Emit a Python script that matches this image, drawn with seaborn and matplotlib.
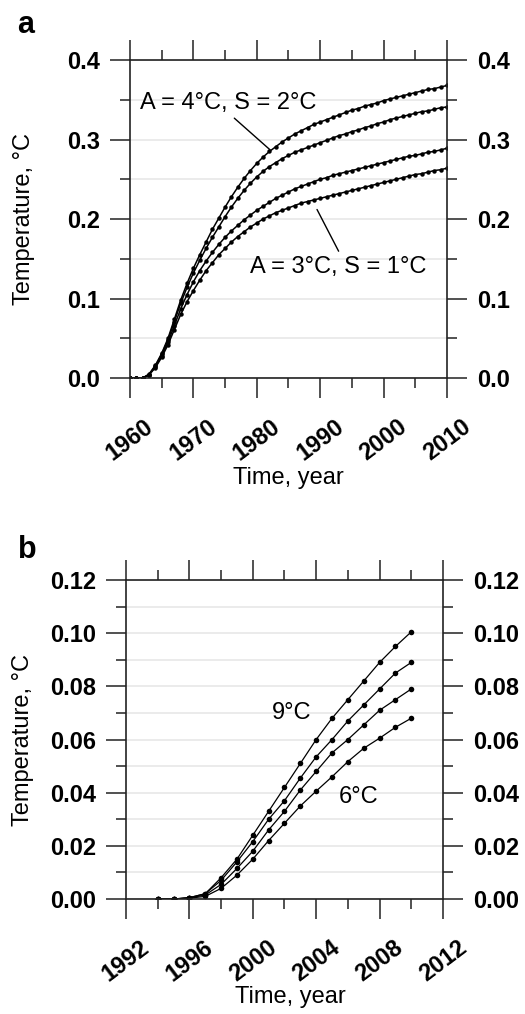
import matplotlib
matplotlib.use("Agg")
import matplotlib.pyplot as plt
import seaborn as sns
from matplotlib.ticker import MultipleLocator

# ---------------------------------------------------------------------------
# Datos
# ---------------------------------------------------------------------------
years_a = list(range(1960, 2011))

temp_a_s1 = [0.000, 0.000, 0.000, 0.005, 0.016, 0.031, 0.050, 0.074, 0.098, 0.119,
             0.138, 0.155, 0.171, 0.187, 0.201, 0.215, 0.228, 0.240, 0.251, 0.261,
             0.270, 0.278, 0.285, 0.291, 0.297, 0.302, 0.307, 0.311, 0.315, 0.319,
             0.322, 0.325, 0.328, 0.331, 0.334, 0.337, 0.339, 0.342, 0.344, 0.346,
             0.349, 0.351, 0.353, 0.355, 0.357, 0.359, 0.361, 0.363, 0.364, 0.366,
             0.368]
temp_a_s2 = [0.000, 0.000, 0.000, 0.004, 0.015, 0.030, 0.048, 0.071, 0.094, 0.114,
             0.132, 0.148, 0.163, 0.177, 0.190, 0.203, 0.215, 0.226, 0.236, 0.245,
             0.253, 0.260, 0.266, 0.271, 0.276, 0.280, 0.284, 0.287, 0.290, 0.293,
             0.296, 0.299, 0.302, 0.305, 0.307, 0.310, 0.312, 0.315, 0.317, 0.320,
             0.322, 0.325, 0.327, 0.329, 0.331, 0.333, 0.335, 0.336, 0.338, 0.340,
             0.341]
temp_a_s3 = [0.000, 0.000, 0.000, 0.004, 0.014, 0.028, 0.045, 0.066, 0.087, 0.105,
             0.121, 0.135, 0.147, 0.158, 0.168, 0.177, 0.185, 0.192, 0.199, 0.205,
             0.211, 0.216, 0.221, 0.226, 0.230, 0.234, 0.238, 0.241, 0.244, 0.247,
             0.250, 0.252, 0.255, 0.257, 0.259, 0.261, 0.263, 0.265, 0.267, 0.269,
             0.271, 0.273, 0.275, 0.277, 0.279, 0.280, 0.282, 0.284, 0.285, 0.287,
             0.289]
temp_a_s4 = [0.000, 0.000, 0.000, 0.004, 0.013, 0.026, 0.042, 0.061, 0.080, 0.096,
             0.110, 0.123, 0.135, 0.145, 0.155, 0.163, 0.171, 0.178, 0.184, 0.190,
             0.195, 0.200, 0.204, 0.208, 0.211, 0.214, 0.217, 0.220, 0.222, 0.224,
             0.226, 0.228, 0.230, 0.232, 0.234, 0.236, 0.238, 0.240, 0.242, 0.244,
             0.246, 0.248, 0.250, 0.252, 0.254, 0.256, 0.257, 0.259, 0.261, 0.262,
             0.264]

years_b = list(range(1994, 2011))

temp_b_s1 = [0.000, 0.000, 0.0005, 0.002, 0.008, 0.015, 0.024, 0.033, 0.042, 0.051,
             0.060, 0.068, 0.075, 0.082, 0.089, 0.095, 0.1005]
temp_b_s2 = [0.000, 0.000, 0.0005, 0.002, 0.007, 0.014, 0.0216, 0.030, 0.037, 0.0455,
             0.0535, 0.060, 0.067, 0.073, 0.079, 0.085, 0.089]
temp_b_s3 = [0.000, 0.000, 0.0004, 0.0015, 0.0055, 0.0115, 0.018, 0.026, 0.033, 0.041,
             0.048, 0.055, 0.060, 0.0655, 0.071, 0.075, 0.079]
temp_b_s4 = [0.000, 0.000, 0.0003, 0.001, 0.004, 0.009, 0.015, 0.022, 0.0285, 0.035,
             0.0406, 0.046, 0.0517, 0.0567, 0.0605, 0.0646, 0.068]

yticks_a = [0.0, 0.1, 0.2, 0.3, 0.4]
yticks_b = [0.00, 0.02, 0.04, 0.06, 0.08, 0.10, 0.12]
xticks_a = [1960, 1970, 1980, 1990, 2000, 2010]
xticks_b = [1992, 1996, 2000, 2004, 2008, 2012]

# ---------------------------------------------------------------------------
# Estilo
# ---------------------------------------------------------------------------
sns.set_theme(style="white")
plt.rcParams["font.family"] = ["Liberation Sans", "DejaVu Sans"]
plt.rcParams["axes.edgecolor"] = "#222222"
plt.rcParams["axes.linewidth"] = 1.2
plt.rcParams["text.color"] = "black"
plt.rcParams["axes.labelcolor"] = "black"
plt.rcParams["xtick.color"] = "black"
plt.rcParams["ytick.color"] = "black"

FS = 17
fig = plt.figure(figsize=(5.25, 10.14), dpi=100)
ax_a = fig.add_axes([0.2476, 0.6272, 0.6038, 0.3136])
ax_b = fig.add_axes([0.2400, 0.1134, 0.6038, 0.3146])


def preparar_ejes(ax, xlim, ylim, xticks, yticks, xminor, yminor, yfmt):
    ax.set_xlim(*xlim)
    ax.set_ylim(*ylim)
    ax.yaxis.set_minor_locator(MultipleLocator(yminor))
    ax.xaxis.set_minor_locator(MultipleLocator(xminor))
    ax.set_xticks(xticks)
    ax.set_xticklabels([str(t) for t in xticks], rotation=37, ha="center",
                       fontsize=FS, fontweight="bold")
    ax.set_yticks(yticks)
    ax.set_yticklabels([yfmt.format(t) for t in yticks], fontsize=FS,
                       fontweight="bold")
    ax.tick_params(axis="both", which="major", direction="out", length=14.5,
                   width=1.2, color="#333333", top=True, right=True,
                   left=True, bottom=True)
    ax.tick_params(axis="both", which="minor", direction="out", length=7.5,
                   width=1.2, color="#333333", top=True, right=True,
                   left=True, bottom=True)
    ax.tick_params(axis="y", which="major", labelright=True, pad=7)
    ax.tick_params(axis="x", which="major", pad=12)
    ax.grid(True, axis="y", which="both", color="#e8e8e8", lw=1.2)
    ax.set_axisbelow(True)
    for s in ax.spines.values():
        s.set_visible(True)


def dibujar(ax, x, series, ms, lw):
    for y in series:
        sns.lineplot(x=x, y=y, ax=ax, color="black", lw=lw, marker="o",
                     markersize=ms, markeredgewidth=0, legend=False)


# ---------------------------------------------------------------------------
# Panel a
# ---------------------------------------------------------------------------
dibujar(ax_a, years_a, [temp_a_s1, temp_a_s2, temp_a_s3, temp_a_s4], 3.2, 1.1)
preparar_ejes(ax_a, (1960, 2010), (0.0, 0.4), xticks_a, yticks_a, 5, 0.05, "{:.1f}")
ax_a.set_xlabel("Time, year", fontsize=FS)
ax_a.set_ylabel("Temperature, \u00b0C", fontsize=FS)
ax_a.xaxis.set_label_coords(0.5, -0.28)
ax_a.yaxis.set_label_coords(-0.30, 0.5)

ax_a.annotate("A = 4\u00b0C, S = 2\u00b0C", xy=(1982.1, 0.287), xytext=(1961.6, 0.346),
              ha="left", va="center", fontsize=FS,
              arrowprops=dict(arrowstyle="-", color="black", lw=1.0,
                              relpos=(0.5, 0.05), shrinkA=1, shrinkB=0))
ax_a.annotate("A = 3\u00b0C, S = 1\u00b0C", xy=(1989.5, 0.212), xytext=(1978.9, 0.14),
              ha="left", va="center", fontsize=FS,
              arrowprops=dict(arrowstyle="-", color="black", lw=1.0,
                              relpos=(0.52, 0.95), shrinkA=1, shrinkB=0))

# ---------------------------------------------------------------------------
# Panel b
# ---------------------------------------------------------------------------
dibujar(ax_b, years_b, [temp_b_s1, temp_b_s2, temp_b_s3, temp_b_s4], 4.0, 0.9)
preparar_ejes(ax_b, (1992, 2012), (0.0, 0.12), xticks_b, yticks_b, 2, 0.01, "{:.2f}")
ax_b.set_xlabel("Time, year", fontsize=FS)
ax_b.set_ylabel("Temperature, \u00b0C", fontsize=FS)
ax_b.xaxis.set_label_coords(0.52, -0.272)
ax_b.yaxis.set_label_coords(-0.29, 0.5)

ax_b.text(2001.2, 0.070, "9\u00b0C", ha="left", va="center", fontsize=FS)
ax_b.text(2005.4, 0.0384, "6\u00b0C", ha="left", va="center", fontsize=FS)

# Letras de panel
fig.text(0.032, 0.9675, "a", fontsize=22, fontweight="bold", ha="left", va="baseline")
fig.text(0.034, 0.4497, "b", fontsize=22, fontweight="bold", ha="left", va="baseline")

fig.savefig("out.png", dpi=100)
plt.close(fig)
